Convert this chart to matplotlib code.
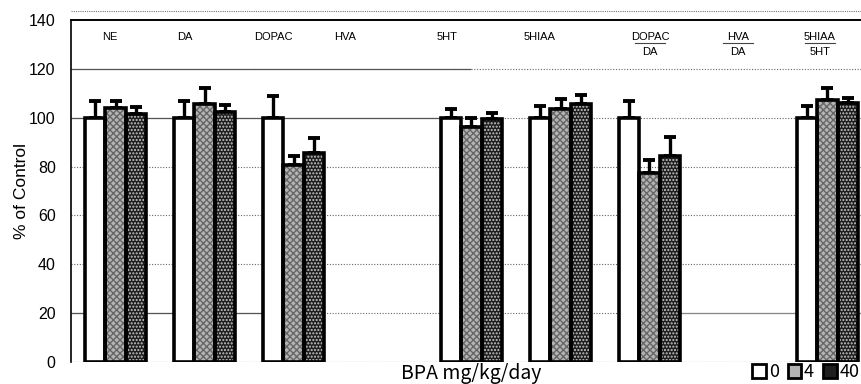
import numpy as np
import matplotlib
matplotlib.use("Agg")
import matplotlib.pyplot as plt
from matplotlib.patches import Patch

# group labels (numerator/denominator) -- HVA columns have no bars
groups = ["NE", "DA", "DOPAC", "HVA", "5HT", "5HIAA", "DOPAC/DA", "HVA/DA", "5HIAA/5HT"]
doses = ["0", "4", "40"]

mean_0 = [100, 100, 100, np.nan, 100, 100, 100, np.nan, 100]
mean_4 = [104, 105.6, 80.7, np.nan, 96, 103.5, 77.3, np.nan, 107.3]
mean_40 = [101.6, 102.4, 85.4, np.nan, 99.3, 105.8, 84.2, np.nan, 106]

err_0 = [6.9, 6.9, 8.9, np.nan, 3.7, 4.9, 6.9, np.nan, 4.6]
err_4 = [3.0, 6.4, 3.6, np.nan, 3.7, 4.0, 5.4, np.nan, 4.7]
err_40 = [2.6, 2.8, 6.3, np.nan, 2.5, 3.5, 8.0, np.nan, 2.0]

yticks = [0, 20, 40, 60, 80, 100, 120, 140]

plt.rcParams["hatch.linewidth"] = 1.0

fig = plt.figure(figsize=(8.62, 3.84), dpi=100)
# axes runs past the right edge, the original picture is cropped there
ax = fig.add_axes([71 / 862, 22 / 384, 801 / 862, 342 / 384])

x = np.arange(len(groups))
w = 0.228
faces = ["white", "#b4b4b4", "#1e1e1e"]
hatch_col = ["white", "#666666", "#c8c8c8"]
hatches = [None, "xxxxx", "....."]

# gridlines: dotted everywhere, some solid segments as in the scan
for yv in [20, 40, 60, 80, 100, 120]:
    ax.axhline(yv, color="#666666", lw=0.8, ls=(0, (1, 1.5)), zorder=0)
ax.hlines(120, -0.5, 4.0, color="#555555", lw=0.9, zorder=0.5)
ax.hlines(100, -0.5, 3.66, color="#555555", lw=0.9, zorder=0.5)
ax.hlines(20, -0.5, 1.65, color="#555555", lw=0.9, zorder=0.5)
ax.hlines(20, 6.34, 8.5, color="#888888", lw=0.9, zorder=0.5)
ax.hlines(0, -0.5, 8.5, color="#888888", lw=0.9, ls=(0, (1, 1)), zorder=0.5)
ax.hlines(143.5, -0.5, 8.5, color="#777777", lw=0.8, ls=(0, (1, 1)), zorder=0.5, clip_on=False)

for i, (m, e) in enumerate(zip([mean_0, mean_4, mean_40], [err_0, err_4, err_40])):
    pos = x + (i - 1) * w
    m = np.array(m, dtype=float)
    e = np.array(e, dtype=float)
    ax.bar(pos, m, w, color=faces[i], edgecolor=hatch_col[i], hatch=hatches[i],
           linewidth=0, zorder=2)
    ax.bar(pos, m, w, fill=False, edgecolor="black", linewidth=2.6, zorder=3)
    ax.errorbar(pos, m, yerr=[np.zeros_like(e), e], fmt="none", ecolor="black",
                elinewidth=2.4, capsize=4.5, capthick=2.8, zorder=1.5)

# group labels at top
label_x = [110, 185, 273, 345, 447, 540, 650, 738, 820]
for gx, g in zip(label_x, groups):
    xd = (gx - 115.5) / 89
    if "/" in g:
        num, den = g.split("/")
        ax.text(xd, 133.0, num, ha="center", va="center", fontsize=8,
                family="Liberation Sans")
        ax.plot([xd - 0.17, xd + 0.17], [130.4, 130.4], color="#444444", lw=0.8)
        ax.text(xd, 127.0, den, ha="center", va="center", fontsize=8,
                family="Liberation Sans")
    else:
        ax.text(xd, 133.0, g, ha="center", va="center", fontsize=8,
                family="Liberation Sans")

ax.set_xlim(-0.5, 8.5)
ax.set_ylim(0, 140)
ax.set_yticks(yticks)
ax.set_yticklabels([str(t) for t in yticks], fontsize=11.5, family="Liberation Sans")
ax.tick_params(axis="y", length=0, pad=11)
ax.set_xticks([])
for s in ["right", "bottom"]:
    ax.spines[s].set_visible(False)
ax.spines["left"].set_linewidth(1.2)
ax.spines["top"].set_linewidth(1.4)
ax.spines["left"].set_zorder(4)

ax.set_ylabel("% of Control", fontsize=12.5, family="Liberation Sans")
ax.yaxis.set_label_coords(-0.052, 0.5)
ax.set_xlabel("BPA mg/kg/day", fontsize=14, family="Noto Sans CJK JP", labelpad=1)

handles = [Patch(facecolor=faces[i], edgecolor="black", linewidth=2.0) for i in range(3)]
fig.legend(handles, doses, loc="lower right", bbox_to_anchor=(1.0, 0.0),
           ncol=3, frameon=False, handlelength=0.75, handleheight=0.75, handletextpad=0.15,
           columnspacing=0.5, borderpad=0, borderaxespad=0.15,
           prop={"family": "Noto Sans CJK JP", "size": 13})

fig.savefig("out.png", dpi=100)
